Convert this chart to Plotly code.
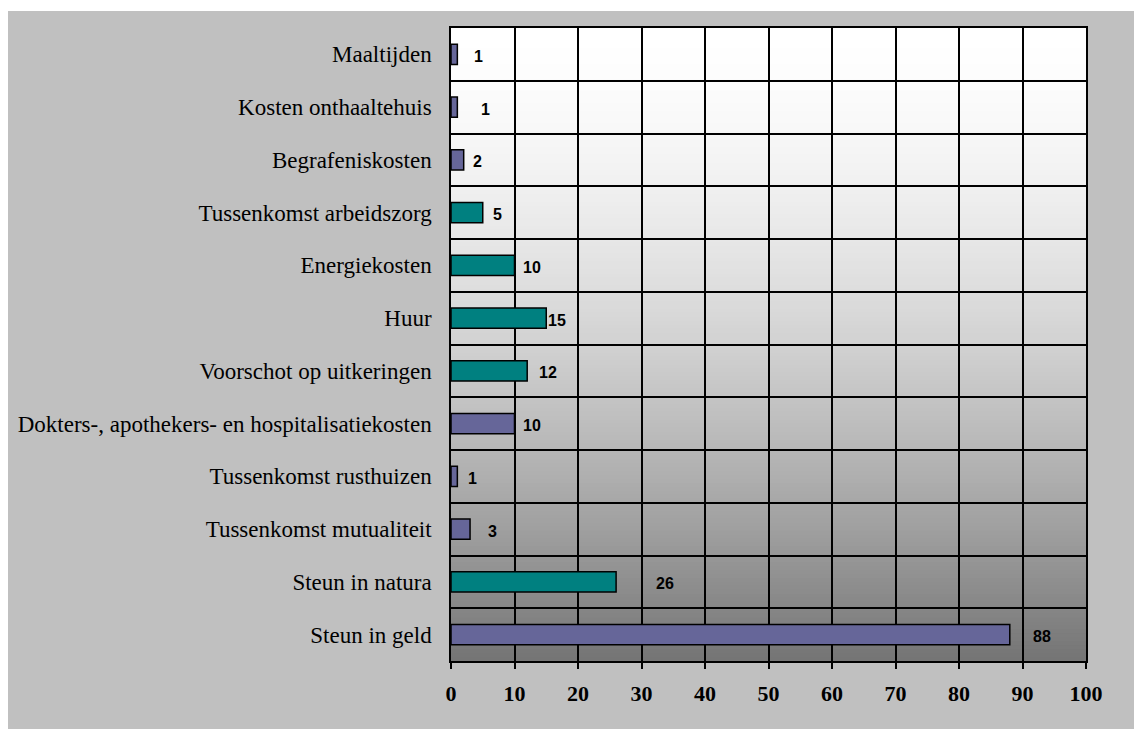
import plotly.graph_objects as go

categories = [
    "Maaltijden",
    "Kosten onthaaltehuis",
    "Begrafeniskosten",
    "Tussenkomst arbeidszorg",
    "Energiekosten",
    "Huur",
    "Voorschot op uitkeringen",
    "Dokters-, apothekers- en hospitalisatiekosten",
    "Tussenkomst rusthuizen",
    "Tussenkomst mutualiteit",
    "Steun in natura",
    "Steun in geld",
]
values = [1, 1, 2, 5, 10, 15, 12, 10, 1, 3, 26, 88]
groups = ["a", "a", "a", "b", "b", "b", "b", "a", "a", "a", "b", "a"]
x_ticks = [0, 10, 20, 30, 40, 50, 60, 70, 80, 90, 100]

# styling
group_colors = {"a": "#666699", "b": "#008080"}
label_shift = [21, 28, 14, 15, 17, 11, 21, 17, 15, 22, 49, 32]

n = len(categories)
pos = list(range(n))

fig = go.Figure()
fig.add_trace(go.Bar(
    x=values, y=pos, orientation="h", width=0.38,
    marker=dict(color=[group_colors[g] for g in groups], line=dict(color="black", width=1.5)),
    hoverinfo="x+text", text=categories, textposition="none",
))

for i, (v, s) in enumerate(zip(values, label_shift)):
    fig.add_annotation(x=v, y=i, text=str(v), showarrow=False, xanchor="center",
                       xshift=s, yshift=-2,
                       font=dict(family="Liberation Sans, Arial", size=16, color="black", weight="bold"))

shapes = []
# vertical gradient background of the plot area (below gridlines)
steps = 160
top, bot = 255, 0x74
for k in range(steps):
    t = (k + 0.5) / steps
    c = round(top - (top - bot) * t ** 1.6)
    y0 = -0.5 + n * k / steps
    y1 = -0.5 + n * (k + 1.6) / steps
    if k == steps - 1:
        y1 = n - 0.5
    shapes.append(dict(type="rect", xref="x domain", yref="y", x0=0, x1=1, y0=y0, y1=y1,
                       layer="below", line=dict(width=0), fillcolor=f"rgb({c},{c},{c})"))
# white page margins outside the gray chart area
L, R, T, B = 451, 1086, 28, 661
W, H = R - L, B - T
shapes.append(dict(type="rect", xref="paper", yref="paper", x0=(0 - L) / W - 0.01, x1=(8 - L) / W,
                   y0=-1, y1=2, layer="below", line=dict(width=0), fillcolor="white"))
shapes.append(dict(type="rect", xref="paper", yref="paper", x0=-1, x1=2,
                   y0=(B - 11) / H, y1=(B + 0) / H + 0.1, layer="below", line=dict(width=0), fillcolor="white"))

fig.update_layout(
    width=1134, height=729,
    margin=dict(l=L, r=1134 - R, t=T, b=729 - B, autoexpand=False),
    paper_bgcolor="#C0C0C0", plot_bgcolor="#C0C0C0",
    showlegend=False, shapes=shapes,
)
fig.update_xaxes(
    range=[0, 100], tickvals=x_ticks, showgrid=True, gridcolor="black", gridwidth=1.5,
    showline=True, linecolor="black", linewidth=1.5, mirror=True,
    ticks="outside", ticklen=6, tickcolor="black", tickwidth=1.5,
    tickfont=dict(family="Liberation Serif, Times New Roman", size=22, color="black", weight="bold"),
    ticklabelstandoff=6, zeroline=False,
)
fig.update_yaxes(
    range=[n - 0.5, -0.5], tickvals=pos, ticktext=categories, showgrid=False,
    showline=True, linecolor="black", linewidth=1.5, mirror=True, ticks="",
    tickfont=dict(family="Liberation Serif, Times New Roman", size=23, color="black"),
    ticklabelstandoff=13, zeroline=False,
    minor=dict(tickvals=[i + 0.5 for i in range(n - 1)], showgrid=True, gridcolor="black",
               gridwidth=1.5, ticks=""),
)

fig.write_html("out.html", config={"displayModeBar": False},
               post_script="document.body.style.margin='0px';")
